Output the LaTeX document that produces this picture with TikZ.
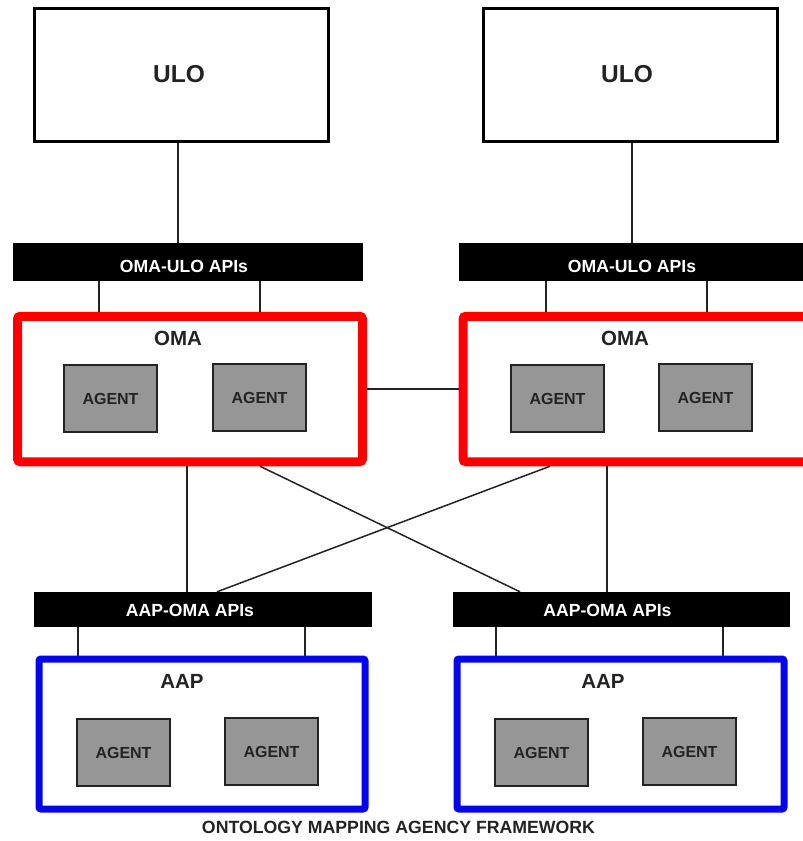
\documentclass[tikz,border=0pt]{standalone}
\usepackage{fontspec}
\setmainfont{Liberation Sans}
\definecolor{boxred}{RGB}{255,0,0}
\definecolor{boxblue}{RGB}{5,5,235}
\definecolor{agentgray}{RGB}{150,150,150}
\definecolor{inkgray}{RGB}{35,35,35}
\tikzset{
  txt/.style={inner sep=0pt, anchor=base, text=inkgray},
  ulobox/.style={draw=black, line width=3pt, minimum width=294pt, minimum height=133pt, inner sep=0pt},
  apibar/.style={fill=black, draw=none, inner sep=0pt},
  omabox/.style={draw=boxred, line width=9pt, rounded corners=3pt, minimum width=345pt, minimum height=145.5pt, inner sep=0pt},
  aapbox/.style={draw=boxblue, line width=7pt, rounded corners=2pt, minimum width=326pt, minimum height=150pt, inner sep=0pt},
  agentbox/.style={draw=inkgray, line width=2pt, fill=agentgray, minimum width=93pt, minimum height=67pt, inner sep=0pt,
    text height=11.4pt, text depth=0pt, font=\fontsize{16}{19}\selectfont\bfseries, text=inkgray},
  conn/.style={draw=inkgray, line width=1.5pt},
}
\begin{document}
\begin{tikzpicture}[x=1pt,y=-1pt]
\useasboundingbox (0,0) rectangle (803,841);
\fill[white] (0,0) rectangle (803,841);
\clip (0,0) rectangle (803,841);

% ULO boxes
\node[ulobox] (ulo1) at (181.5,75) {};
\node[ulobox] (ulo2) at (630,75) {};
\node[txt, font=\fontsize{24.5}{28}\selectfont\bfseries] (ulot1) at (179,82.8) {ULO};
\node[txt, font=\fontsize{24.5}{28}\selectfont\bfseries] (ulot2) at (627,82.8) {ULO};

% OMA-ULO API bars
\node[apibar, minimum width=350pt, minimum height=38pt] (obar1) at (188,262) {};
\node[apibar, minimum width=354pt, minimum height=38pt] (obar2) at (636,262) {};
\node[txt, text=white, font=\fontsize{17.6}{20}\selectfont\bfseries] (obart1) at (184,272.3) {OMA-ULO APIs};
\node[txt, text=white, font=\fontsize{17.6}{20}\selectfont\bfseries] (obart2) at (632,272.3) {OMA-ULO APIs};

% OMA boxes
\node[omabox] (oma1) at (190,389) {};
\node[omabox] (oma2) at (635.5,389) {};
\node[txt, font=\fontsize{20.5}{24}\selectfont\bfseries] (omat1) at (178,345.8) {OMA};
\node[txt, font=\fontsize{20.5}{24}\selectfont\bfseries] (omat2) at (625,345.8) {OMA};
\node[agentbox] (oa1) at (110.5,398.5) {AGENT};
\node[agentbox] (oa2) at (259.5,397.5) {AGENT};
\node[agentbox] (oa3) at (557.5,398.5) {AGENT};
\node[agentbox] (oa4) at (705.5,397.5) {AGENT};

% AAP-OMA API bars
\node[apibar, minimum width=338pt, minimum height=35pt] (abar1) at (203,609.5) {};
\node[apibar, minimum width=337pt, minimum height=35pt] (abar2) at (621.5,609.5) {};
\node[txt, text=white, font=\fontsize{17.6}{20}\selectfont\bfseries] (abart1) at (190,616.8) {AAP-OMA APIs};
\node[txt, text=white, font=\fontsize{17.6}{20}\selectfont\bfseries] (abart2) at (607.5,616.8) {AAP-OMA APIs};

% AAP boxes
\node[aapbox] (aap1) at (202,734) {};
\node[aapbox, minimum width=327pt] (aap2) at (620.5,734) {};
\node[txt, font=\fontsize{20.5}{24}\selectfont\bfseries] (aapt1) at (182,688.8) {AAP};
\node[txt, font=\fontsize{20.5}{24}\selectfont\bfseries] (aapt2) at (603,688.8) {AAP};
\node[agentbox] (aa1) at (123.5,752.5) {AGENT};
\node[agentbox] (aa2) at (271.5,751.5) {AGENT};
\node[agentbox] (aa3) at (541.5,752.5) {AGENT};
\node[agentbox] (aa4) at (689.5,751.5) {AGENT};

% caption
\node[txt, font=\fontsize{17.7}{21}\selectfont\bfseries] (caption) at (398.5,833.3) {ONTOLOGY MAPPING AGENCY FRAMEWORK};

% connectors
\draw[conn] ([xshift=-3.5pt]ulo1.south) -- ([xshift=-3.5pt]ulo1.south |- obar1.north);
\draw[conn] ([xshift=2pt]ulo2.south) -- ([xshift=2pt]ulo2.south |- obar2.north);

\draw[conn] ([xshift=-89pt]obar1.south) -- ([xshift=-89pt]obar1.south |- oma1.north);
\draw[conn] ([xshift=72pt]obar1.south) -- ([xshift=72pt]obar1.south |- oma1.north);
\draw[conn] ([xshift=-90pt]obar2.south) -- ([xshift=-90pt]obar2.south |- oma2.north);
\draw[conn] ([xshift=71pt]obar2.south) -- ([xshift=71pt]obar2.south |- oma2.north);

\draw[conn] (oma1.east) -- (oma2.west);

\draw[conn] ([xshift=-3pt]oma1.south) -- ([xshift=-3pt]oma1.south |- abar1.north);
\draw[conn] ([xshift=-28.5pt]oma2.south) -- ([xshift=-28.5pt]oma2.south |- abar2.north);
\draw[conn] ([xshift=70pt]oma1.south) -- ([xshift=-101.5pt]abar2.north);
\draw[conn] ([xshift=-85.5pt]oma2.south) -- ([xshift=14pt]abar1.north);

\draw[conn] ([xshift=-125pt]abar1.south) -- ([xshift=-125pt]abar1.south |- aap1.north);
\draw[conn] ([xshift=102pt]abar1.south) -- ([xshift=102pt]abar1.south |- aap1.north);
\draw[conn] ([xshift=-125.5pt]abar2.south) -- ([xshift=-125.5pt]abar2.south |- aap2.north);
\draw[conn] ([xshift=101.5pt]abar2.south) -- ([xshift=101.5pt]abar2.south |- aap2.north);
\end{tikzpicture}
\end{document}
